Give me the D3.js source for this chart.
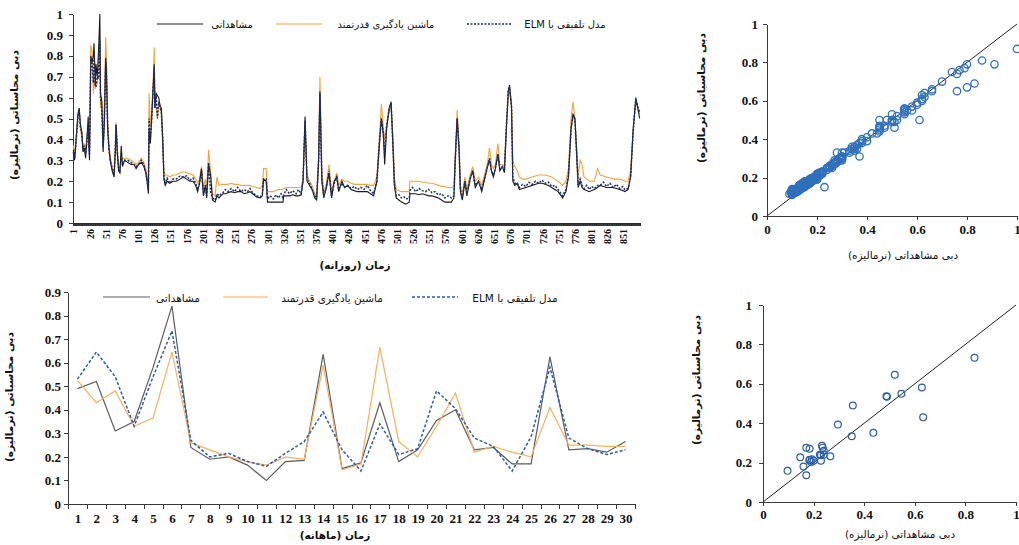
<!DOCTYPE html>
<html>
<head>
<meta charset="utf-8">
<title>دبی محاسباتی و مشاهداتی</title>
<script src="https://cdn.jsdelivr.net/npm/d3@7"></script>
<style>
  body { margin: 0; background: #fff; }
</style>
</head>
<body>
<script>
// daily series (one entry per drawn vertex)
var dailyDays = [
  1,3,5,8,10,12,14,16,18,20,
  22,24,25,26,28,30,32,33,35,36,
  38,40,41,42,43,45,47,49,51,52,
  54,56,58,61,64,66,67,69,71,73,
  75,77,80,85,90,95,98,102,106,110,
  113,115,117,118,120,122,124,126,127,129,
  131,133,135,137,139,141,143,146,150,155,
  160,166,171,176,181,186,190,193,196,199,
  202,205,207,210,213,216,220,223,226,232,
  236,240,245,250,255,260,265,270,274,278,
  284,290,293,295,299,301,305,310,314,318,
  322,325,326,330,335,340,345,349,353,356,
  359,362,366,370,374,377,380,382,385,388,
  392,396,400,404,408,411,416,420,425,430,
  435,440,445,450,455,460,465,470,474,477,
  480,482,485,489,492,495,497,500,504,508,
  512,515,520,521,525,530,535,540,545,550,
  555,560,565,570,575,580,585,589,591,594,
  597,599,602,606,609,614,618,622,627,632,
  637,641,644,647,650,653,657,660,664,667,
  670,673,675,678,680,683,687,690,695,700,
  705,710,715,720,725,730,735,740,745,750,
  757,762,766,770,773,776,779,781,784,787,
  790,794,798,802,806,811,815,820,825,830,
  835,840,845,850,853,858,862,866,870,873,
  876
];
var obsDaily = [
  .35,.30,.38,.52,.55,.47,.44,.34,.36,.31,
  .40,.51,.37,.30,.80,.77,.80,.86,.66,.76,
  .70,.83,.91,1.00,.62,.58,.34,.48,.79,.74,
  .45,.36,.30,.25,.22,.35,.47,.33,.25,.24,
  .37,.27,.30,.29,.28,.28,.26,.28,.29,.27,
  .24,.20,.14,.45,.38,.50,.62,.76,.55,.62,
  .61,.60,.56,.55,.40,.21,.18,.20,.19,.20,
  .20,.21,.22,.21,.20,.20,.18,.15,.19,.26,
  .13,.18,.12,.28,.23,.11,.10,.13,.12,.14,
  .14,.145,.15,.145,.15,.15,.14,.145,.15,.14,
  .125,.12,.13,.21,.20,.10,.10,.10,.10,.10,
  .10,.10,.13,.13,.13,.135,.13,.13,.135,.20,
  .51,.20,.18,.16,.12,.11,.30,.63,.20,.12,
  .17,.24,.12,.20,.22,.15,.20,.17,.18,.16,
  .155,.15,.15,.15,.15,.14,.13,.20,.38,.50,
  .42,.28,.45,.55,.58,.35,.18,.12,.11,.10,
  .095,.09,.10,.14,.14,.14,.135,.14,.135,.13,
  .13,.125,.12,.11,.10,.10,.10,.12,.30,.50,
  .35,.15,.11,.20,.13,.21,.25,.17,.20,.15,
  .22,.27,.30,.25,.22,.26,.33,.25,.27,.24,
  .45,.63,.66,.55,.20,.18,.19,.16,.165,.17,
  .175,.18,.185,.19,.19,.185,.18,.17,.16,.15,
  .12,.15,.22,.45,.52,.50,.30,.17,.20,.17,
  .16,.155,.15,.155,.16,.17,.18,.175,.17,.17,
  .17,.165,.16,.155,.15,.16,.22,.45,.60,.55,
  .50
];
var rlmDaily = [
  .37,.33,.40,.50,.55,.44,.42,.36,.38,.34,
  .42,.45,.40,.35,.85,.82,.62,.70,.64,.68,
  .66,.78,.80,.86,.55,.60,.40,.55,.89,.80,
  .50,.38,.32,.27,.24,.38,.48,.36,.27,.27,
  .30,.31,.31,.31,.30,.29,.28,.29,.31,.29,
  .26,.22,.20,.62,.47,.52,.65,.84,.58,.55,
  .50,.58,.57,.52,.42,.24,.23,.23,.22,.23,
  .23,.24,.245,.24,.235,.23,.21,.19,.21,.27,
  .17,.21,.15,.35,.25,.14,.13,.22,.18,.185,
  .185,.185,.19,.185,.185,.18,.18,.18,.18,.175,
  .17,.165,.18,.26,.26,.15,.15,.15,.155,.16,
  .16,.16,.165,.17,.17,.17,.17,.17,.17,.22,
  .47,.23,.20,.18,.14,.13,.32,.70,.25,.14,
  .19,.28,.15,.20,.24,.18,.21,.20,.20,.19,
  .185,.185,.185,.185,.185,.18,.18,.22,.42,.57,
  .45,.40,.47,.53,.55,.40,.22,.16,.155,.15,
  .15,.15,.15,.20,.20,.20,.20,.195,.195,.19,
  .19,.185,.18,.175,.175,.17,.17,.17,.32,.54,
  .38,.18,.14,.22,.16,.23,.27,.20,.22,.18,
  .24,.29,.36,.28,.26,.28,.38,.28,.28,.27,
  .45,.60,.63,.58,.30,.27,.25,.22,.21,.21,
  .215,.22,.225,.23,.23,.23,.225,.22,.21,.20,
  .18,.20,.26,.50,.58,.50,.35,.22,.30,.28,
  .22,.21,.20,.20,.20,.26,.23,.225,.22,.215,
  .21,.21,.21,.205,.20,.20,.25,.45,.58,.55,
  .52
];
var elmDaily = [
  .34,.31,.38,.50,.54,.46,.43,.35,.37,.33,
  .39,.46,.38,.33,.79,.76,.67,.81,.66,.65,
  .70,.69,.79,.87,.60,.55,.36,.50,.77,.75,
  .47,.35,.30,.26,.23,.36,.47,.34,.26,.25,
  .31,.29,.30,.30,.29,.28,.27,.28,.30,.28,
  .24,.20,.16,.50,.40,.49,.63,.74,.55,.61,
  .50,.58,.55,.53,.41,.22,.19,.215,.19,.21,
  .21,.225,.22,.225,.205,.215,.19,.16,.19,.25,
  .14,.18,.13,.29,.15,.12,.11,.14,.13,.145,
  .16,.15,.165,.15,.17,.15,.16,.15,.165,.145,
  .13,.125,.14,.21,.21,.115,.13,.115,.135,.12,
  .14,.12,.135,.16,.14,.155,.14,.16,.14,.21,
  .49,.21,.19,.16,.13,.12,.30,.62,.21,.13,
  .17,.25,.13,.19,.22,.16,.19,.17,.18,.165,
  .175,.16,.17,.16,.18,.155,.14,.20,.39,.50,
  .43,.33,.46,.55,.57,.36,.19,.13,.135,.12,
  .125,.115,.12,.155,.17,.15,.165,.155,.15,.16,
  .145,.15,.135,.14,.12,.13,.12,.13,.29,.50,
  .35,.16,.12,.20,.14,.21,.25,.18,.20,.16,
  .22,.27,.31,.25,.23,.26,.33,.26,.27,.25,
  .46,.64,.65,.56,.22,.19,.19,.17,.185,.175,
  .195,.185,.20,.19,.205,.19,.195,.175,.18,.16,
  .13,.16,.23,.45,.52,.49,.31,.18,.21,.18,
  .165,.18,.16,.175,.165,.18,.18,.195,.175,.19,
  .17,.185,.165,.175,.16,.165,.22,.44,.59,.56,
  .53
];
var dailyTickLabels = [1,26,51,76,101,126,151,176,201,226,251,276,301,326,351,376,401,
  426,451,476,501,526,551,576,601,626,651,676,701,726,751,776,801,826,851];
var dailyYTicks = [0,0.1,0.2,0.3,0.4,0.5,0.6,0.7,0.8,0.9,1];

// monthly series (bottom chart)
var months = [1,2,3,4,5,6,7,8,9,10,11,12,13,14,15,16,17,18,19,20,21,22,23,24,25,26,27,28,29,30];
var obsMonthly = [.49,.52,.31,.35,.58,.84,.24,.19,.20,.165,.10,.18,.185,.635,.15,.175,.43,.18,.23,.355,.40,.23,.24,.17,.17,.625,.23,.235,.22,.265];
var rlmMonthly = [.525,.43,.48,.33,.365,.645,.26,.23,.20,.18,.165,.20,.19,.59,.145,.17,.665,.265,.20,.33,.47,.22,.245,.22,.20,.41,.25,.25,.245,.245];
var elmMonthly = [.53,.645,.54,.33,.54,.735,.27,.20,.215,.18,.16,.215,.265,.39,.23,.14,.34,.21,.235,.48,.405,.28,.245,.14,.285,.58,.28,.235,.21,.23];
var monthlyYTicks = [0,0.1,0.2,0.3,0.4,0.5,0.6,0.7,0.8,0.9];

// monthly scatter (bottom right)
var scatObsMonthly = [.097,.147,.16,.171,.171,.184,.183,.193,.19,.229,.233,.236,.229,.24,.266,.296,.351,.355,.436,.488,.49,.521,.547,.628,.633,.836,.185,.2,.225,.24];
var scatSimMonthly = [.158,.227,.18,.136,.275,.27,.212,.217,.203,.237,.285,.276,.21,.26,.232,.393,.334,.49,.351,.537,.534,.646,.549,.581,.43,.732,.215,.21,.24,.24];
var scatTicks = [0,0.2,0.4,0.6,0.8,1];

var seriesNames = ["مشاهداتی", "ماشین یادگیری قدرتمند", "مدل تلفیقی با ELM"];
var yTitle = "دبی محاسباتی (نرمالیزه)";
var xTitleScatter = "دبی مشاهداتی (نرمالیزه)";

var numFont = '"Liberation Serif", "Times New Roman", serif';
var faFont = '"DejaVu Sans", sans-serif';

var svg = d3.select("body").append("svg")
    .attr("width", 1019)
    .attr("height", 545)
    .style("background", "#fff");

function styleAxis(g, size) {
    g.selectAll("path, line").attr("stroke", "#3a3a3a").attr("shape-rendering", "crispEdges");
    g.selectAll("text")
        .style("font-family", numFont)
        .style("font-weight", "bold")
        .style("font-size", size + "px")
        .attr("fill", "#111");
}

function faText(x, y, txt, size, bold, rotate) {
    var t = svg.append("text")
        .attr("x", rotate ? 0 : x)
        .attr("y", rotate ? 0 : y)
        .attr("text-anchor", "middle")
        .attr("direction", "rtl")
        .style("direction", "rtl")
        .style("font-family", faFont)
        .style("font-size", size + "px")
        .style("font-weight", bold ? "bold" : "normal")
        .attr("fill", "#111")
        .text(txt);
    if (rotate) t.attr("transform", "translate(" + x + "," + y + ") rotate(-90)");
    return t;
}

// ---------- top left: daily series ----------
var xD = d3.scaleLinear().domain([0.5, 876.5]).range([73, 640]);
var yD = d3.scaleLinear().domain([0, 1]).range([223, 14]);

svg.append("g").attr("transform", "translate(73,0)")
    .call(d3.axisLeft(yD).tickValues(dailyYTicks).tickFormat(d3.format("")).tickSize(4).tickSizeOuter(0).tickPadding(6))
    .call(styleAxis, 13);

// one tick per day: they merge into the dark band under the axis
var dayBounds = d3.range(0.5, 877, 1);
svg.append("g").attr("transform", "translate(0,223)")
    .call(d3.axisBottom(xD).tickValues(dayBounds).tickFormat(function () { return ""; }).tickSize(3).tickSizeOuter(0))
    .call(styleAxis, 10)
    .call(function (g) { g.selectAll("line").attr("stroke", "#2b2b2b").attr("shape-rendering", null); g.select(".domain").attr("stroke-width", 1.5); });

svg.append("g").attr("transform", "translate(0,226)")
    .call(d3.axisBottom(xD).tickValues(dailyTickLabels).tickSize(0).tickPadding(0))
    .call(styleAxis, 10)
    .call(function (g) {
        g.select(".domain").remove();
        g.selectAll("text")
            .attr("transform", "rotate(-90)")
            .attr("text-anchor", "end")
            .attr("x", -3)
            .attr("y", 0)
            .attr("dy", "0.35em");
    });

var idxD = d3.range(dailyDays.length);
function dailyLine(vals) {
    return d3.line().x(function (i) { return xD(dailyDays[i]); }).y(function (i) { return yD(vals[i]); })(idxD);
}
svg.append("path").attr("d", dailyLine(rlmDaily)).attr("fill", "none").attr("stroke", "#f0a53e").attr("stroke-width", 1.1);
svg.append("path").attr("d", dailyLine(obsDaily)).attr("fill", "none").attr("stroke", "#1a1a1a").attr("stroke-width", 1.1);
svg.append("path").attr("d", dailyLine(elmDaily)).attr("fill", "none").attr("stroke", "#1c2f6a").attr("stroke-width", 1.5).attr("stroke-dasharray", "2,1.5");

// legend
svg.append("line").attr("x1", 157).attr("x2", 203).attr("y1", 24).attr("y2", 24).attr("stroke", "#1a1a1a").attr("stroke-width", 1.1);
faText(232, 28, seriesNames[0], 10, false);
svg.append("line").attr("x1", 276).attr("x2", 322).attr("y1", 24).attr("y2", 24).attr("stroke", "#f0a53e").attr("stroke-width", 1.1);
faText(386, 28, seriesNames[1], 10, false);
svg.append("line").attr("x1", 467).attr("x2", 511).attr("y1", 24).attr("y2", 24).attr("stroke", "#1c2f6a").attr("stroke-width", 1.3).attr("stroke-dasharray", "2,1.5");
faText(565, 28, seriesNames[2], 10, false);

faText(18, 115, yTitle, 10.5, true, true);
faText(355, 269, "زمان (روزانه)", 10.5, true);

// ---------- top right: daily scatter ----------
var xS1 = d3.scaleLinear().domain([0, 1]).range([767, 1017]);
var yS1 = d3.scaleLinear().domain([0, 1]).range([216, 24]);

svg.append("g").attr("transform", "translate(767,0)")
    .call(d3.axisLeft(yS1).tickValues(scatTicks).tickFormat(d3.format("")).tickSize(4).tickSizeOuter(0).tickPadding(5))
    .call(styleAxis, 13);
svg.append("g").attr("transform", "translate(0,216)")
    .call(d3.axisBottom(xS1).tickValues(scatTicks).tickFormat(d3.format("")).tickSize(4).tickSizeOuter(0).tickPadding(5))
    .call(styleAxis, 13);

svg.append("line")
    .attr("x1", xS1(0)).attr("y1", yS1(0)).attr("x2", xS1(1)).attr("y2", yS1(1))
    .attr("stroke", "#222").attr("stroke-width", 1);

svg.append("g").selectAll("circle")
    .data(idxD)
    .enter()
    .append("circle")
    .attr("cx", function (i) { return xS1(obsDaily[i]); })
    .attr("cy", function (i) { return yS1(elmDaily[i]); })
    .attr("r", 3.7)
    .attr("fill", "none")
    .attr("stroke", "#3070bb")
    .attr("stroke-width", 1.3);

faText(705, 98, yTitle, 10.5, true, true);
faText(903, 259, xTitleScatter, 10.5, false);

// ---------- bottom left: monthly series ----------
var xM = d3.scaleLinear().domain([0.5, 30.5]).range([68, 635]);
var yM = d3.scaleLinear().domain([0, 0.9]).range([504, 292]);

svg.append("g").attr("transform", "translate(68,0)")
    .call(d3.axisLeft(yM).tickValues(monthlyYTicks).tickFormat(d3.format("")).tickSize(4).tickSizeOuter(0).tickPadding(3))
    .call(styleAxis, 13);
svg.append("g").attr("transform", "translate(0,504)")
    .call(d3.axisBottom(xM).tickValues(d3.range(0.5, 31, 1)).tickFormat(function () { return ""; }).tickSize(5).tickSizeOuter(0))
    .call(styleAxis, 13);
svg.append("g").attr("transform", "translate(0,504)")
    .call(d3.axisBottom(xM).tickValues(months).tickSize(0).tickPadding(10))
    .call(styleAxis, 13)
    .call(function (g) { g.select(".domain").remove(); });

function monthlyLine(vals) {
    return d3.line().x(function (d, i) { return xM(months[i]); }).y(function (d) { return yM(d); })(vals);
}
svg.append("path").attr("d", monthlyLine(obsMonthly)).attr("fill", "none").attr("stroke", "#5c5c5c").attr("stroke-width", 1.2);
svg.append("path").attr("d", monthlyLine(rlmMonthly)).attr("fill", "none").attr("stroke", "#f2b263").attr("stroke-width", 1.2);
svg.append("path").attr("d", monthlyLine(elmMonthly)).attr("fill", "none").attr("stroke", "#2d5ca8").attr("stroke-width", 1.5).attr("stroke-dasharray", "3,2");

svg.append("line").attr("x1", 103).attr("x2", 150).attr("y1", 297).attr("y2", 297).attr("stroke", "#5c5c5c").attr("stroke-width", 1.2);
faText(178, 302, seriesNames[0], 10.5, false);
svg.append("line").attr("x1", 223).attr("x2", 268).attr("y1", 297).attr("y2", 297).attr("stroke", "#f2b263").attr("stroke-width", 1.2);
faText(332, 302, seriesNames[1], 10.5, false);
svg.append("line").attr("x1", 412).attr("x2", 458).attr("y1", 297).attr("y2", 297).attr("stroke", "#2d5ca8").attr("stroke-width", 1.4).attr("stroke-dasharray", "3,2");
faText(515, 302, seriesNames[2], 10.5, false);

faText(13, 397, yTitle, 10.5, true, true);
faText(335, 539, "زمان (ماهانه)", 10.5, true);

// ---------- bottom right: monthly scatter ----------
var xS2 = d3.scaleLinear().domain([0, 1]).range([763, 1016]);
var yS2 = d3.scaleLinear().domain([0, 1]).range([502, 305]);

svg.append("g").attr("transform", "translate(763,0)")
    .call(d3.axisLeft(yS2).tickValues(scatTicks).tickFormat(d3.format("")).tickSize(4).tickSizeOuter(0).tickPadding(7))
    .call(styleAxis, 13);
svg.append("g").attr("transform", "translate(0,502)")
    .call(d3.axisBottom(xS2).tickValues(scatTicks).tickFormat(d3.format("")).tickSize(4).tickSizeOuter(0).tickPadding(4))
    .call(styleAxis, 13);

svg.append("line")
    .attr("x1", xS2(0)).attr("y1", yS2(0)).attr("x2", xS2(1)).attr("y2", yS2(1))
    .attr("stroke", "#222").attr("stroke-width", 1);

svg.append("g").selectAll("circle")
    .data(scatObsMonthly)
    .enter()
    .append("circle")
    .attr("cx", function (d) { return xS2(d); })
    .attr("cy", function (d, i) { return yS2(scatSimMonthly[i]); })
    .attr("r", 3.4)
    .attr("fill", "none")
    .attr("stroke", "#2b5ea6")
    .attr("stroke-width", 1.2);

faText(700, 380, yTitle, 10.5, true, true);
faText(900, 538, xTitleScatter, 10.5, false);
</script>
</body>
</html>
